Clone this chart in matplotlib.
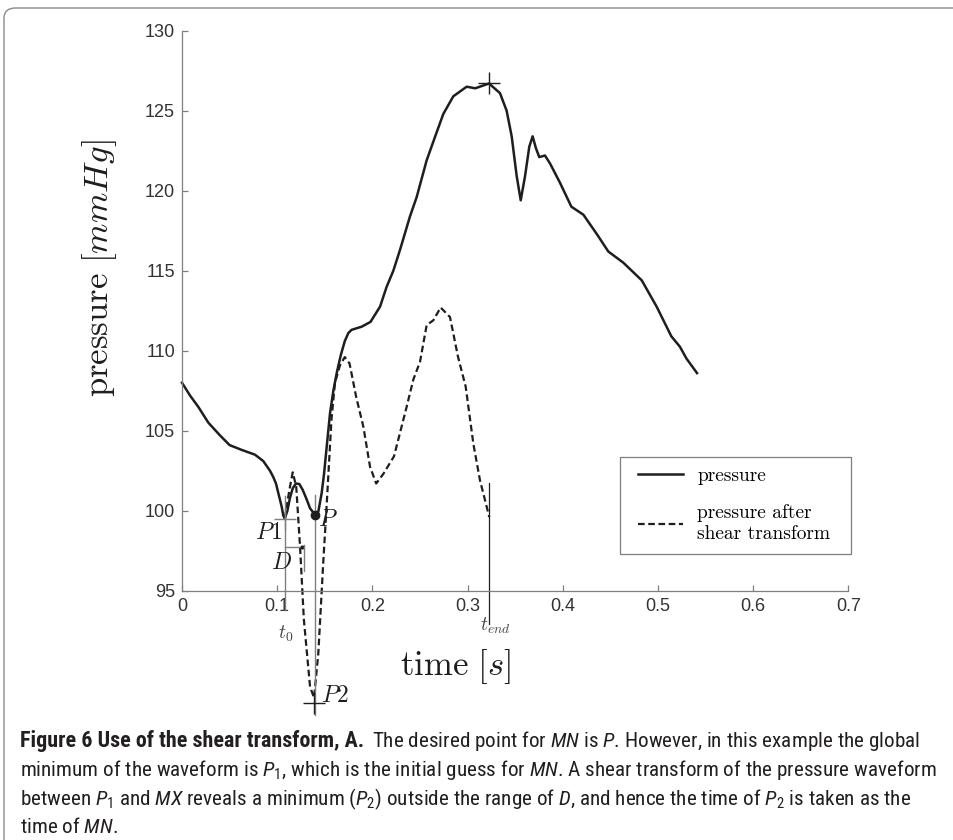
import matplotlib
matplotlib.use('Agg')
import matplotlib.pyplot as plt
from matplotlib import font_manager
from matplotlib.patches import FancyBboxPatch, Rectangle

# pressure waveform (s, mmHg)
t_pressure = [0.0, 0.0084, 0.017, 0.0277, 0.040, 0.050, 0.0627, 0.0767, 0.0854, 0.0924,
              0.0959, 0.0987, 0.1012, 0.1047, 0.1064, 0.108, 0.1107, 0.1134, 0.1163, 0.1197,
              0.1232, 0.1268, 0.131, 0.1345, 0.1397, 0.1432, 0.1467, 0.1492, 0.152, 0.1555,
              0.159, 0.1625, 0.1667, 0.171, 0.1747, 0.178, 0.1887, 0.198, 0.208, 0.215,
              0.222, 0.229, 0.234, 0.2395, 0.2465, 0.257, 0.266, 0.2745, 0.285, 0.299,
              0.308, 0.3225, 0.334, 0.341, 0.3463, 0.3516, 0.3558, 0.3603, 0.3648, 0.3683,
              0.3718, 0.3753, 0.3813, 0.3866, 0.397, 0.409, 0.4216, 0.4356, 0.4478, 0.4636,
              0.4829, 0.4986, 0.514, 0.523, 0.530, 0.541]
p_pressure = [108.0, 107.2, 106.5, 105.5, 104.7, 104.1, 103.8, 103.5, 103.1, 102.5,
              102.1, 101.7, 101.1, 100.25, 99.7, 99.5, 100.0, 100.8, 101.4, 101.7,
              101.67, 101.3, 100.7, 100.15, 99.75, 99.94, 101.1, 102.3, 104.0, 106.1,
              107.5, 108.6, 109.7, 110.6, 111.1, 111.3, 111.5, 111.8, 112.75, 114.0,
              115.0, 116.3, 117.3, 118.4, 119.6, 121.9, 123.4, 124.8, 125.9, 126.5,
              126.4, 126.7, 126.1, 125.0, 123.4, 120.9, 119.4, 120.9, 122.75, 123.4,
              122.65, 122.1, 122.2, 121.7, 120.5, 119.0, 118.5, 117.3, 116.2, 115.5,
              114.4, 112.75, 110.9, 110.25, 109.5, 108.6]

# pressure after shear transform (between P1 and MX)
t_shear = [0.108, 0.1125, 0.1163, 0.120, 0.124, 0.128, 0.1345, 0.1387, 0.1432, 0.1485,
           0.152, 0.157, 0.1607, 0.166, 0.171, 0.176, 0.183, 0.1905, 0.1975, 0.204,
           0.2115, 0.2227, 0.236, 0.243, 0.25, 0.257, 0.264, 0.2717, 0.2815, 0.290,
           0.298, 0.306, 0.313, 0.3228]
p_shear = [99.5, 101.2, 102.4, 101.5, 97.75, 93.2, 89.0, 88.3, 91.1, 96.9,
           100.4, 105.7, 108.0, 109.1, 109.6, 109.2, 107.1, 105.25, 102.75, 101.7,
           102.3, 103.4, 106.5, 108.2, 109.3, 111.6, 111.9, 112.7, 112.1, 109.6,
           107.75, 104.2, 101.9, 99.6]

# marked points
t0, p1 = 0.108, 99.46
t_p, p_p = 0.1397, 99.75
t_p2, p_p2 = 0.1387, 88.0
t_mx, p_mx = 0.3225, 126.7
t_end = 0.3228
d_end = 0.1256

xticks = [0, 0.1, 0.2, 0.3, 0.4, 0.5, 0.6, 0.7]
yticks = [95, 100, 105, 110, 115, 120, 125, 130]


def has_regular(name):
    # need an upright, normal-weight face for the caption body
    for f in font_manager.fontManager.ttflist:
        if f.name == name and f.style == 'normal' and str(f.weight) in ('400', 'normal', 'regular', 'book'):
            return True
    return False


names = {f.name for f in font_manager.fontManager.ttflist}
cap_font = 'Open Sans'
for cand in ['Liberation Sans Narrow', 'Open Sans Condensed', 'Roboto Condensed', 'Noto Sans Condensed']:
    if cand in names and has_regular(cand):
        cap_font = cand
        break
plt.rcParams['mathtext.fontset'] = 'custom'
plt.rcParams['mathtext.rm'] = cap_font
plt.rcParams['mathtext.it'] = cap_font + ':italic'
plt.rcParams['mathtext.bf'] = cap_font + ':bold'

fig = plt.figure(figsize=(9.54, 8.4), dpi=100)
ax = fig.add_axes([182 / 954, 1 - 590.7 / 840, 666.4 / 954, 560 / 840])

ink = '#1e1e1e'
grey = '#7f7f7f'
ax.plot(t_pressure, p_pressure, color=ink, lw=1.8, label='pressure', clip_on=False)
dl, = ax.plot(t_shear, p_shear, color=ink, lw=1.6, ls='--', label='pressure after\nshear transform',
              clip_on=False)
dl.set_dashes([3.0, 1.6])

# guide lines and markers
ax.plot([t0, t0], [100.9, 93.8], color=grey, lw=1, clip_on=False)
ax.plot([t_p, t_p], [101.0, 87.2], color=grey, lw=1, clip_on=False)
ax.plot([t_end, t_end], [101.7, 92.9], color=ink, lw=0.9, clip_on=False)
ax.plot([t0], [p1], marker='+', ms=16, mew=1, color=grey, clip_on=False)
ax.plot([t_p2], [p_p2], marker='+', ms=16, mew=1, color=ink, clip_on=False)
ax.plot([t_mx], [p_mx], marker='+', ms=16, mew=1, color=ink, clip_on=False)
ax.plot([t_p], [p_p], marker='o', ms=6, color=ink, clip_on=False)
ax.plot([t0, d_end], [97.7, 97.7], color=grey, lw=1, clip_on=False)
ax.plot([d_end], [97.7], marker='.', ms=4, color=ink, clip_on=False)
ax.plot([0.1277, 0.1277], [97.85, 96.2], color=grey, lw=1, clip_on=False)

lab = dict(math_fontfamily='cm', fontsize=17, ha='center', va='center', color=ink)
ax.text(0.0906, 98.69, r'$P\mathrm{1}$', **lab)
ax.text(0.1047, 96.8, r'$D$', **lab)
ax.text(0.153, 99.5, r'$P$', **lab)
ax.text(0.161, 88.5, r'$P\mathrm{2}$', **lab)
small = dict(lab, fontsize=14, color='#444444')
ax.text(0.1087, 92.3, r'$t_0$', **small)
ax.text(0.3293, 92.8, r'$t_{end}$', **small)

ax.set_xlim(0, 0.7)
ax.set_ylim(95, 130)
ax.set_xticks(xticks)
ax.set_xticklabels(['0', '0.1', '0.2', '0.3', '0.4', '0.5', '0.6', '0.7'])
ax.set_yticks(yticks)
for s in ['top', 'right']:
    ax.spines[s].set_visible(False)
for s in ['left', 'bottom']:
    ax.spines[s].set_color(grey)
    ax.spines[s].set_linewidth(0.9)
ax.tick_params(direction='in', length=4.5, width=0.9, color=grey, pad=5,
               labelsize=13, labelcolor='#333333')
for t in ax.get_xticklabels() + ax.get_yticklabels():
    t.set_family('Liberation Sans')

ax.set_xlabel(r'$\mathrm{time}\ [s]$', math_fontfamily='cm', fontsize=25, color=ink)
ax.xaxis.set_label_coords(0.411, -0.1)
ax.set_ylabel(r'$\mathrm{pressure}\ [mmHg]$', math_fontfamily='cm', fontsize=25, color=ink)
ax.yaxis.set_label_coords(-0.095, 0.576)

# legend entries, with a separately drawn frame
leg = ax.legend(loc='upper left', bbox_to_anchor=(0.6843, 0.2213), borderaxespad=0,
                prop={'family': 'cmr10', 'size': 14}, frameon=False,
                handlelength=2.3, handletextpad=0.75, labelspacing=1.0, borderpad=0)
ax.add_patch(Rectangle((0.657, 0.0655), 0.3466, 0.1732, transform=ax.transAxes, fill=False,
                       edgecolor=grey, lw=0.9, clip_on=False))

# caption
fig.canvas.draw()
r = fig.canvas.get_renderer()
cap_title = 'Figure 6 Use of the shear transform, A.'
cap_lines = [
    r'The desired point for $MN$ is $P$. However, in this example the global',
    r'minimum of the waveform is $P_1$, which is the initial guess for $MN$. A shear transform of the pressure waveform',
    r'between $P_1$ and $MX$ reveals a minimum ($P_2$) outside the range of $D$, and hence the time of $P_2$ is taken as the',
    r'time of $MN$.',
]
cap_col = '#231f20'
probe = fig.text(0, 0, cap_lines[1], family=cap_font, fontsize=12)
w = probe.get_window_extent(r).width
probe.remove()
fs = 12 * 915 / w
gap = 8
ys = [741, 770, 799, 827]
x0 = 20 / 954
b = fig.text(x0, 1 - ys[0] / 840, cap_title, family=cap_font, fontsize=fs * 1.04, weight='bold',
             va='center', color=cap_col)
bw = b.get_window_extent(r).width
fig.text(x0 + (bw + gap) / 954, 1 - ys[0] / 840, cap_lines[0], family=cap_font, fontsize=fs,
         weight='normal', va='center', color=cap_col)
for line, y in zip(cap_lines[1:], ys[1:]):
    fig.text(x0, 1 - y / 840, line, family=cap_font, fontsize=fs, weight='normal',
             va='center', color=cap_col)

border = FancyBboxPatch((4 / 954, -0.05), 1.1, 1.05 - 8 / 840, boxstyle='round,pad=0,rounding_size=0.012',
                        transform=fig.transFigure, fill=False, edgecolor='#8a8a8a', lw=1)
fig.patches.append(border)

fig.savefig('out.png', dpi=100)
